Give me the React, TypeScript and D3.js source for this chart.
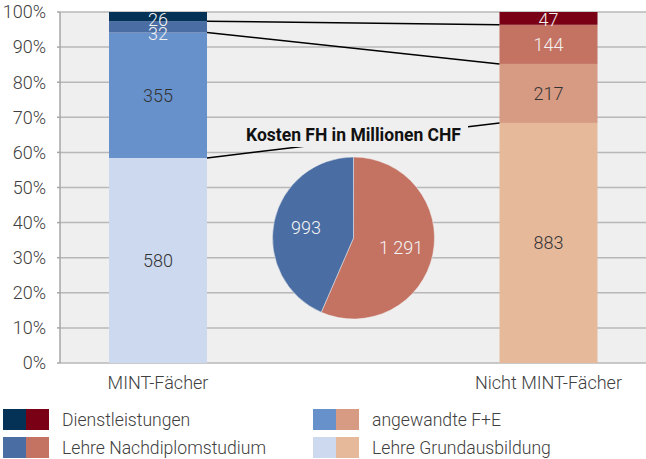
import React from "react";
import * as d3 from "d3";

const categories = ["MINT-Fächer", "Nicht MINT-Fächer"];
const seriesNames = ["Lehre Grundausbildung", "angewandte F+E", "Lehre Nachdiplomstudium", "Dienstleistungen"];
const mintValues = [580, 355, 32, 26];
const nichtValues = [883, 217, 144, 47];
const mintColors = ["#cdd9ef", "#6791cb", "#4a6da3", "#033256"];
const nichtColors = ["#e6b99b", "#d79a83", "#c47262", "#7a0015"];
const labelColors = ["#333333", "#333333", "#f2f2f2", "#f2f2f2"];
const pieTitle = "Kosten FH in Millionen CHF";
const legendOrder = [3, 2, 1, 0];

const W = 646;
const H = 459;
const FONT = "Roboto, 'Noto Sans', sans-serif";

export default function App() {
  const plot = { left: 60, right: 646, top: 12, bottom: 363 };
  const y = d3.scaleLinear().domain([0, 1]).range([plot.bottom, plot.top]);
  const x = d3.scalePoint().domain(categories).range([158, 548.5]);
  const barW = 98;
  const fmt = d3.formatLocale({ decimal: ".", thousands: " ", grouping: [3], currency: ["", ""] }).format(",d");
  const pct = d3.format(".0%");

  const all = [mintValues, nichtValues];
  const colors = [mintColors, nichtColors];
  const stacks = all.map((vals) => {
    const total = d3.sum(vals);
    let cum = 0;
    return vals.map((v) => {
      const y0 = cum / total;
      cum += v;
      return { v, y0, y1: cum / total };
    });
  });

  const labelPos = stacks.map((segs) => {
    const rev = segs.map((s, i) => ({ i, c: (y(s.y0) + y(s.y1)) / 2 })).reverse();
    let prev = plot.top - 6;
    const out: number[] = [];
    rev.forEach((r) => {
      const c = Math.max(r.c, prev + 14, plot.top + 8);
      out[r.i] = c;
      prev = c;
    });
    return out;
  });

  const pieData = [d3.sum(nichtValues), d3.sum(mintValues)];
  const pieColors = ["#c47262", "#4a6da3"];
  const pie = d3.pie<number>().sort(null).value((d) => d)(pieData);
  const cx = 353.5, cy = 238, r = 81;
  const arc = d3.arc<d3.PieArcDatum<number>>().innerRadius(0).outerRadius(r);
  const labelArc = d3.arc<d3.PieArcDatum<number>>().innerRadius(r * 0.6).outerRadius(r * 0.6);

  const xa = x(categories[0])! + barW / 2;
  const xb = x(categories[1])! - barW / 2;

  return (
    <svg width={W} height={H} style={{ position: "absolute", left: 0, top: 0, fontFamily: FONT }}>
      <rect x={plot.left} y={plot.top} width={plot.right - plot.left} height={plot.bottom - plot.top} fill="#efefef" />
      {y.ticks(10).map((t) => (
        <g key={t}>
          <line x1={plot.left} x2={plot.right} y1={y(t)} y2={y(t)} stroke="#b8b8b8" strokeWidth={1.5} />
          <line x1={plot.left - 3} x2={plot.left} y1={y(t)} y2={y(t)} stroke="#a6a6a6" strokeWidth={1.5} />
          <text x={46} y={y(t)} dy="0.35em" textAnchor="end" fontSize={18} fontWeight={300} fill="#404040">
            {pct(t)}
          </text>
        </g>
      ))}
      <line x1={plot.left} x2={plot.left} y1={plot.top} y2={plot.bottom} stroke="#a6a6a6" strokeWidth={1.5} />
      {stacks.map((segs, ci) =>
        segs.map((s, i) => (
          <rect
            key={ci + "-" + i}
            x={x(categories[ci])! - barW / 2}
            width={barW}
            y={y(s.y1)}
            height={y(s.y0) - y(s.y1)}
            fill={colors[ci][i]}
          />
        ))
      )}
      {[1, 2, 3].map((k) => (
        <line
          key={k}
          x1={xa}
          x2={xb}
          y1={y(stacks[0][k].y0)}
          y2={y(stacks[1][k].y0)}
          stroke="#000"
          strokeWidth={1.5}
        />
      ))}
      {stacks.map((segs, ci) =>
        segs.map((s, i) => (
          <text
            key={"l" + ci + "-" + i}
            x={x(categories[ci])!}
            y={labelPos[ci][i]}
            dy="0.35em"
            textAnchor="middle"
            fontSize={18}
            fontWeight={300}
            fill={labelColors[i]}
          >
            {fmt(s.v)}
          </text>
        ))
      )}
      <rect x={238} y={125} width={230} height={22} fill="#efefef" />
      <text x={cx} y={141} textAnchor="middle" fontSize={17.5} fontWeight={700} fill="#111">
        {pieTitle}
      </text>
      <g transform={`translate(${cx},${cy})`}>
        {pie.map((p, i) => (
          <path key={i} d={arc(p)!} fill={pieColors[i]} stroke="#efefef" strokeWidth={0.5} />
        ))}
        {pie.map((p, i) => {
          const [lx, ly] = labelArc.centroid(p);
          return (
            <text key={"pl" + i} x={lx} y={ly} dy="0.35em" textAnchor="middle" fontSize={18} fontWeight={300} fill="#f4f4f4">
              {fmt(p.data)}
            </text>
          );
        })}
      </g>
      {categories.map((c) => (
        <text key={c} x={x(c)!} y={389} textAnchor="middle" fontSize={18} fontWeight={300} fill="#404040">
          {c}
        </text>
      ))}
      {legendOrder.map((si, k) => {
        const col = Math.floor(k / 2);
        const row = k % 2;
        const lx = col === 0 ? 3 : 313;
        const ly = 409 + row * 28;
        return (
          <g key={si}>
            <rect x={lx} y={ly} width={23} height={21} fill={mintColors[si]} />
            <rect x={lx + 23} y={ly} width={23} height={21} fill={nichtColors[si]} />
            <text x={lx + 59} y={ly + 10.5} dy="0.35em" fontSize={17.6} fontWeight={300} fill="#404040">
              {seriesNames[si]}
            </text>
          </g>
        );
      })}
    </svg>
  );
}
